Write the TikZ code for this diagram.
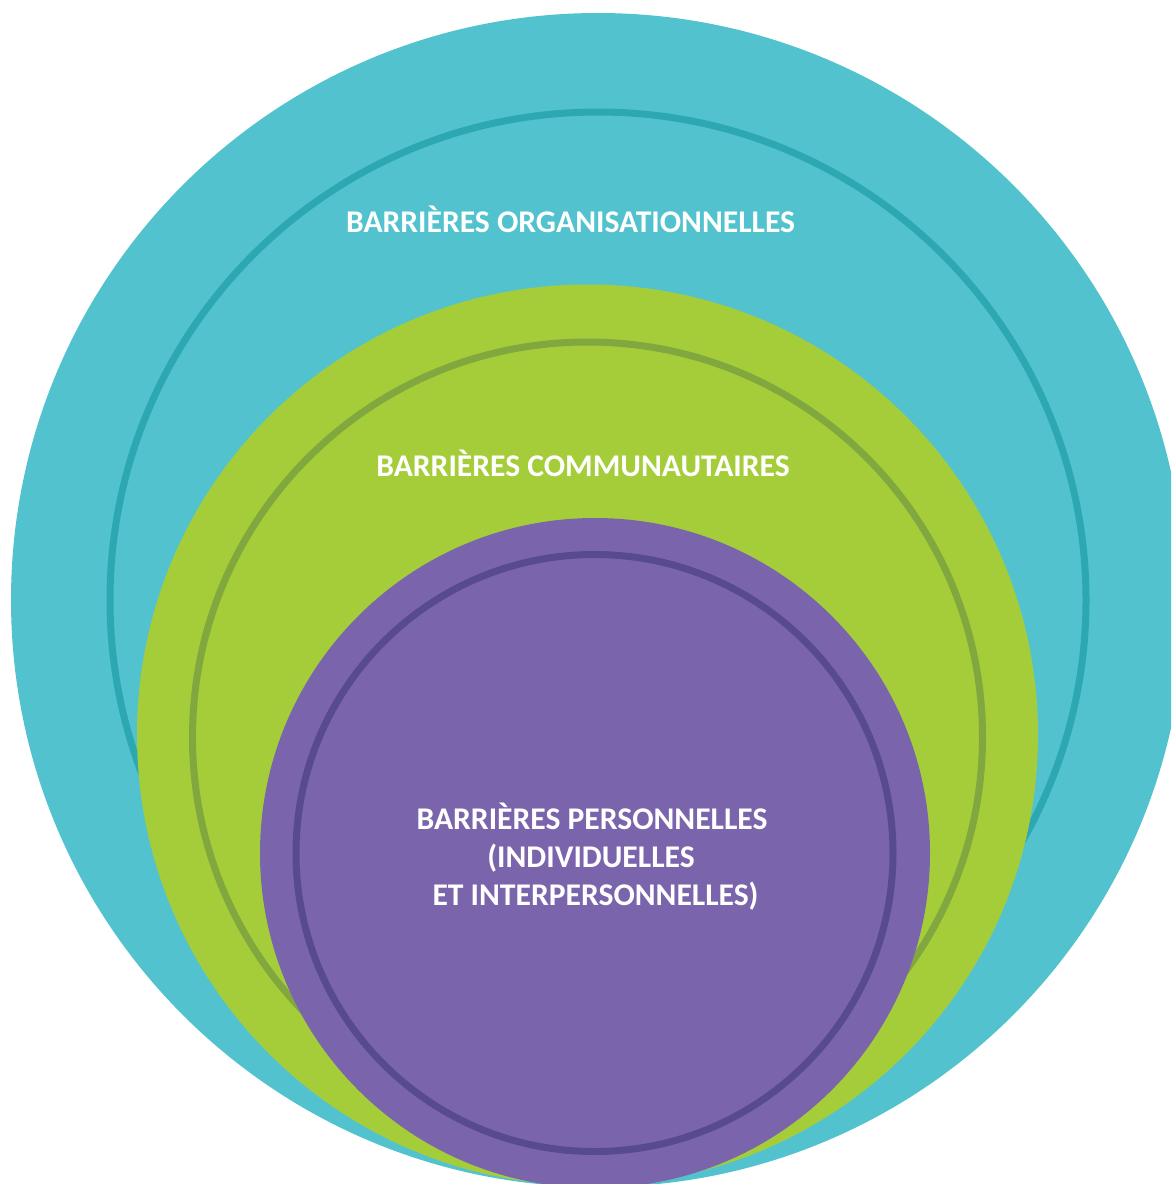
\documentclass[tikz,border=0pt]{standalone}
\usepackage{fontspec}
\setmainfont{Carlito}
\definecolor{tealfill}{HTML}{52C3CE}
\definecolor{tealring}{HTML}{2DA8B3}
\definecolor{greenfill}{HTML}{A5CD39}
\definecolor{greenring}{HTML}{80A83F}
\definecolor{purplefill}{HTML}{7A65AC}
\definecolor{purplering}{HTML}{574A8F}
\begin{document}
\begin{tikzpicture}[x=1pt,y=-1pt,
  ring/.style={line width=7pt},
  label/.style={text=white,font=\fontsize{31.6}{37}\selectfont\bfseries,anchor=base,inner sep=0pt}]
\useasboundingbox (0,0) rectangle (1171,1184);
\clip (0,0) rectangle (1171,1184);
\fill[tealfill] (598,600) circle (587pt);
\draw[tealring,ring] (598,600) circle (488pt);
\fill[greenfill] (587.5,735) circle (450.5pt);
\draw[greenring,ring] (587.5,737) circle (395pt);
\fill[purplefill] (595,853) circle (335pt);
\draw[purplering,ring] (594.5,853) circle (298.5pt);
\node[label] (org) at (570.5,232) {BARRIÈRES ORGANISATIONNELLES};
\node[label] (com) at (583,476) {BARRIÈRES COMMUNAUTAIRES};
\node[label] (per1) at (592,829) {BARRIÈRES PERSONNELLES};
\node[label] (per2) at (591,867) {(INDIVIDUELLES};
\node[label] (per3) at (595.5,905) {ET INTERPERSONNELLES)};
\end{tikzpicture}
\end{document}
